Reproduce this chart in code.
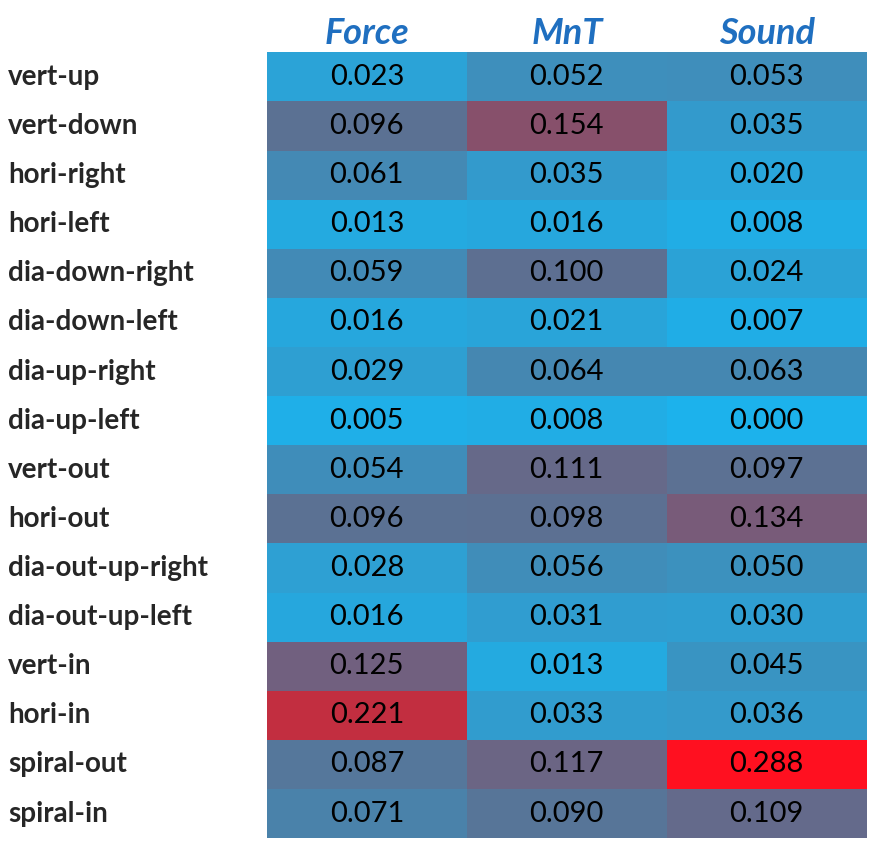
import numpy as np, pandas as pd, seaborn as sns, matplotlib
matplotlib.use("Agg")
import matplotlib.pyplot as plt
from matplotlib.colors import LinearSegmentedColormap
from matplotlib.transforms import blended_transform_factory

rows = ["vert-up","vert-down","hori-right","hori-left","dia-down-right","dia-down-left",
        "dia-up-right","dia-up-left","vert-out","hori-out","dia-out-up-right","dia-out-up-left",
        "vert-in","hori-in","spiral-out","spiral-in"]
cols = ["Force","MnT","Sound"]
force = [0.023,0.096,0.061,0.013,0.059,0.016,0.029,0.005,0.054,0.096,0.028,0.016,0.125,0.221,0.087,0.071]
mnt   = [0.052,0.154,0.035,0.016,0.100,0.021,0.064,0.008,0.111,0.098,0.056,0.031,0.013,0.033,0.117,0.090]
sound = [0.053,0.035,0.020,0.008,0.024,0.007,0.063,0.000,0.097,0.134,0.050,0.030,0.045,0.036,0.288,0.109]

df = pd.DataFrame({"Force":force,"MnT":mnt,"Sound":sound}, index=rows)
sns.set_theme(style="white")
plt.rcParams['font.family'] = ['Lato','DejaVu Sans']

cmap = LinearSegmentedColormap.from_list("br", [(0, "#1cb2ec"), (0.33, "#5a7294"),
                                                (0.53, "#86506c"), (0.77, "#c22e40"), (1, "#ff1020")])
fig = plt.figure(figsize=(8.72, 8.44), dpi=100)
ax = fig.add_axes([0.306, 0.007, 0.688, 0.931])
sns.heatmap(df, ax=ax, cmap=cmap, vmin=0, vmax=0.288, cbar=False, annot=True, fmt=".3f",
            annot_kws={"fontsize":21, "color":"black"})
ax.xaxis.tick_top()
ax.set_xticklabels(cols, fontsize=26, fontweight="bold", style="italic", color="#1f6fc0")
ax.tick_params(axis="x", length=0, pad=2)
ax.set_yticks([]); ax.set_ylabel(""); ax.set_xlabel("")
tr = blended_transform_factory(fig.transFigure, ax.transData)
for i, r in enumerate(rows):
    ax.text(8/872, i + 0.5, r, transform=tr, ha="left", va="center", fontsize=20, fontweight="bold")
fig.savefig("out.png", dpi=100)
